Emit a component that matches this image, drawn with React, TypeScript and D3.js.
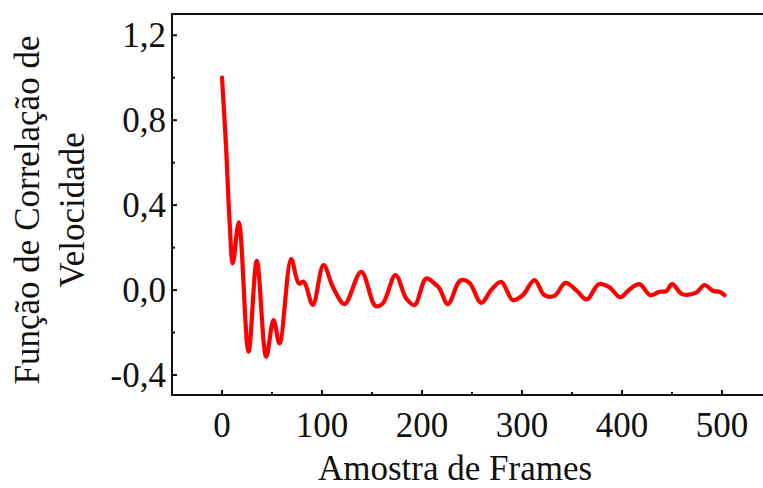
import React from "react";
import * as d3 from "d3";

const frames = [0, 4, 7.5, 10.8, 16.8, 26.5, 34.8, 44.2, 51.5, 57.5, 69.2, 76.8, 81.8, 90.8, 101.5, 110.8, 122.5, 139.2, 153.5, 160.8, 173.5, 184.2, 192.5, 204.2, 212.5, 217.5, 225.8, 235.8, 239.2, 247.5, 259.2, 269.2, 279.2, 290.8, 300.8, 312.5, 322.5, 332.5, 343.5, 354.2, 364.8, 376.8, 387.5, 398.2, 407.5, 417.5, 428.2, 437.5, 444.2, 450.2, 460.2, 474.2, 482.5, 490.8, 497.5, 502.5];
const correlation = [1.0, 0.68, 0.33, 0.126, 0.319, -0.29, 0.138, -0.314, -0.141, -0.251, 0.146, 0.031, 0.039, -0.07, 0.118, 0.016, -0.066, 0.086, -0.075, -0.063, 0.071, -0.039, -0.071, 0.055, 0.031, 0.008, -0.066, 0.031, 0.047, 0.034, -0.06, 0.0, 0.039, -0.047, -0.024, 0.047, -0.024, -0.027, 0.034, 0.0, -0.044, 0.028, 0.013, -0.034, 0.003, 0.028, -0.024, -0.008, -0.005, 0.028, -0.019, -0.012, 0.024, -0.003, -0.008, -0.024];

const xMajorTicks = [0, 100, 200, 300, 400, 500];
const xMinorTicks = [50, 150, 250, 350, 450];
const yMajorTicks = [1.2, 0.8, 0.4, 0.0, -0.4];
const yMinorTicks = [1.0, 0.6, 0.2, -0.2];
const xTitle = "Amostra de Frames";
const yTitleLines = ["Função de Correlação de", "Velocidade"];

const W = 763;
const H = 488;
const left = 172;
const top = 14;
const bottom = 395;

const font = "'Liberation Serif', 'Times New Roman', serif";

export default function App() {
  const x = d3.scaleLinear().domain([-50, 550]).range([left, left + 600]);
  const y = d3.scaleLinear().domain([-0.494, 1.3]).range([bottom, top]);
  const data = frames.map((f, i) => [f, correlation[i]] as [number, number]);
  const line = d3
    .line<[number, number]>()
    .x((d) => x(d[0]))
    .y((d) => y(d[1]))
    .curve(d3.curveCatmullRom.alpha(0.5));
  const fmt = (v: number) => d3.format(".1f")(v).replace(".", ",").replace("−", "-");

  return (
    <svg
      width={W}
      height={H}
      style={{ position: "absolute", left: 0, top: 0, background: "#fff" }}
    >
      <path d={line(data) || ""} fill="none" stroke="#ff0000" strokeWidth={4.2} strokeLinejoin="round" strokeLinecap="round" />
      {/* frame */}
      <line x1={left} x2={W} y1={top} y2={top} stroke="#111" strokeWidth={2} />
      <line x1={left} x2={W} y1={bottom} y2={bottom} stroke="#111" strokeWidth={2} />
      <line x1={left} x2={left} y1={top - 1} y2={bottom + 1} stroke="#111" strokeWidth={2} />
      {/* x ticks */}
      {xMajorTicks.map((t) => (
        <g key={"xm" + t}>
          <line x1={x(t)} x2={x(t)} y1={bottom} y2={bottom - 5} stroke="#111" strokeWidth={2} />
          <text x={x(t)} y={bottom + 42} textAnchor="middle" fontFamily={font} fontSize={35} fill="#111">
            {t}
          </text>
        </g>
      ))}
      {xMinorTicks.map((t) => (
        <line key={"xn" + t} x1={x(t)} x2={x(t)} y1={bottom} y2={bottom - 3} stroke="#111" strokeWidth={2} />
      ))}
      {/* y ticks */}
      {yMajorTicks.map((t) => (
        <g key={"ym" + t}>
          <line x1={left} x2={left + 5} y1={y(t)} y2={y(t)} stroke="#111" strokeWidth={2} />
          <text x={left - 6} y={y(t) + 12} textAnchor="end" fontFamily={font} fontSize={35} fill="#111">
            {fmt(t)}
          </text>
        </g>
      ))}
      {yMinorTicks.map((t) => (
        <line key={"yn" + t} x1={left} x2={left + 3} y1={y(t)} y2={y(t)} stroke="#111" strokeWidth={2} />
      ))}
      {/* titles */}
      <text x={455} y={480} textAnchor="middle" fontFamily={font} fontSize={35} fill="#111">
        {xTitle}
      </text>
      {yTitleLines.map((s, i) => (
        <text
          key={s}
          transform={`translate(${39 + i * 45},210) rotate(-90)`}
          textAnchor="middle"
          fontFamily={font}
          fontSize={35}
          fill="#111"
        >
          {s}
        </text>
      ))}
    </svg>
  );
}
